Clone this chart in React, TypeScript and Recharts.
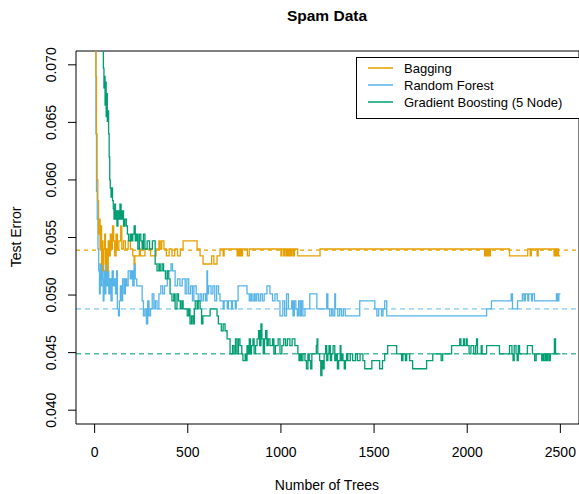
import { LineChart, Line, XAxis, YAxis, ReferenceLine } from 'recharts';

const FONT = '"Liberation Sans", Arial, Helvetica, sans-serif';
const COLORS = { bag: '#E69F00', rf: '#56B4E9', gb: '#009E73' };

const xTicks = [0, 500, 1000, 1500, 2000, 2500];
const yTicks = [0.04, 0.045, 0.05, 0.055, 0.06, 0.065, 0.07];

// [number of trees, test error], drawn as steps
const bagging = [
  [1, 0.095], [4, 0.076], [7, 0.069], [10, 0.064], [13, 0.06], [17, 0.0582], [21, 0.0553], [25, 0.0566],
  [29, 0.054], [33, 0.056], [37, 0.0527], [41, 0.0547], [45, 0.0521], [49, 0.054], [54, 0.0553], [58, 0.0527],
  [63, 0.054], [68, 0.0521], [73, 0.0547], [78, 0.0534], [84, 0.0553], [90, 0.054], [96, 0.056], [102, 0.0547],
  [108, 0.0534], [115, 0.0553], [122, 0.054], [130, 0.0547], [140, 0.056], [146, 0.054], [155, 0.0547], [165, 0.054],
  [180, 0.0547], [192, 0.054], [205, 0.0534], [212, 0.0527], [216, 0.0534], [240, 0.054], [246, 0.0534], [270, 0.054],
  [300, 0.0534], [330, 0.054], [345, 0.0547], [352, 0.054], [360, 0.0547], [372, 0.054], [385, 0.0534], [400, 0.054],
  [415, 0.0534], [430, 0.054], [445, 0.0534], [460, 0.054], [475, 0.0547], [550, 0.054], [566, 0.0534], [582, 0.0527],
  [628, 0.0534], [640, 0.0527], [657, 0.0534], [673, 0.054], [690, 0.0534], [695, 0.054], [765, 0.0534], [770, 0.054],
  [776, 0.0534], [782, 0.054], [788, 0.0534], [794, 0.054], [820, 0.0534], [830, 0.054], [1000, 0.0534], [1005, 0.054],
  [1015, 0.0534], [1022, 0.054], [1030, 0.0534], [1036, 0.054], [1042, 0.0534], [1048, 0.054], [1055, 0.0534],
  [1060, 0.054], [1068, 0.0534], [1072, 0.054], [1090, 0.0534], [1210, 0.054], [2093, 0.0534], [2100, 0.054],
  [2106, 0.0534], [2112, 0.054], [2118, 0.0534], [2124, 0.054], [2227, 0.0534], [2325, 0.054], [2338, 0.0534],
  [2344, 0.054], [2375, 0.0534], [2381, 0.054], [2466, 0.0534], [2472, 0.054], [2478, 0.0534], [2484, 0.054],
  [2490, 0.0534], [2500, 0.0534],
];

const randomForest = [
  [1, 0.09], [4, 0.072], [7, 0.064], [10, 0.059], [14, 0.0566], [18, 0.054], [22, 0.0521], [26, 0.0501],
  [30, 0.0527], [34, 0.0508], [38, 0.0534], [42, 0.0514], [46, 0.0495], [50, 0.0521], [55, 0.0501], [60, 0.0527],
  [65, 0.0508], [70, 0.0521], [76, 0.0501], [82, 0.0514], [88, 0.0495], [94, 0.0521], [100, 0.0508], [106, 0.0514],
  [112, 0.0501], [118, 0.0521], [122, 0.0488], [128, 0.0482], [133, 0.0495], [138, 0.0508], [145, 0.0495],
  [150, 0.0514], [158, 0.0501], [165, 0.0514], [172, 0.0508], [180, 0.0521], [191, 0.0514], [198, 0.0521],
  [205, 0.0508], [212, 0.0527], [218, 0.0514], [226, 0.0508], [255, 0.0495], [262, 0.0482], [270, 0.0488],
  [278, 0.0475], [285, 0.0495], [292, 0.0482], [300, 0.0488], [309, 0.0501], [318, 0.0488], [326, 0.0495],
  [335, 0.0488], [345, 0.0501], [355, 0.0508], [365, 0.0501], [375, 0.0508], [390, 0.0521], [410, 0.0527],
  [418, 0.0521], [432, 0.0508], [445, 0.0514], [458, 0.0508], [470, 0.0514], [486, 0.0501], [495, 0.0514],
  [505, 0.0501], [515, 0.0508], [525, 0.0495], [533, 0.0508], [545, 0.0501], [556, 0.0495], [566, 0.0501],
  [575, 0.0495], [585, 0.0501], [596, 0.0495], [603, 0.0521], [606, 0.0501], [612, 0.0508], [625, 0.0501],
  [635, 0.0508], [645, 0.0495], [655, 0.0508], [665, 0.0501], [673, 0.0495], [690, 0.0488], [695, 0.0495],
  [712, 0.0488], [718, 0.0495], [735, 0.0488], [740, 0.0495], [755, 0.0488], [760, 0.0495], [770, 0.0508],
  [818, 0.0501], [830, 0.0495], [838, 0.0501], [845, 0.0495], [855, 0.0501], [862, 0.0495], [870, 0.0501],
  [880, 0.0495], [890, 0.0501], [900, 0.0495], [910, 0.0501], [925, 0.0508], [941, 0.0501], [955, 0.0495],
  [968, 0.0501], [980, 0.0495], [995, 0.0482], [1010, 0.0495], [1020, 0.0482], [1030, 0.0501], [1040, 0.0488],
  [1058, 0.0495], [1065, 0.0482], [1072, 0.0495], [1080, 0.0488], [1088, 0.0482], [1095, 0.0495], [1103, 0.0482],
  [1110, 0.0495], [1118, 0.0482], [1129, 0.0488], [1155, 0.0501], [1193, 0.0488], [1246, 0.0501], [1252, 0.0488],
  [1262, 0.0482], [1272, 0.0488], [1280, 0.0482], [1289, 0.0501], [1293, 0.0488], [1305, 0.0482], [1315, 0.0488],
  [1325, 0.0482], [1335, 0.0488], [1345, 0.0482], [1359, 0.0482], [1423, 0.0495], [1504, 0.0488], [1515, 0.0482],
  [1525, 0.0488], [1540, 0.0482], [1548, 0.0488], [1557, 0.0495], [1568, 0.0482], [2104, 0.0488], [2130, 0.0495],
  [2236, 0.0501], [2243, 0.0488], [2270, 0.0495], [2296, 0.0501], [2305, 0.0495], [2312, 0.0501], [2325, 0.0495],
  [2330, 0.0501], [2345, 0.0495], [2350, 0.0501], [2361, 0.0495], [2479, 0.0501], [2485, 0.0495], [2492, 0.0501],
  [2500, 0.0501],
];

const gradientBoosting = [
  [1, 0.1], [20, 0.085], [40, 0.074], [47, 0.0697], [50, 0.068], [53, 0.069], [56, 0.0665], [59, 0.0685],
  [62, 0.0655], [65, 0.0675], [68, 0.0651], [72, 0.066], [75, 0.064], [78, 0.062], [81, 0.06], [84, 0.0593],
  [88, 0.0585], [92, 0.0593], [96, 0.0582], [100, 0.0575], [104, 0.0566], [108, 0.0579], [112, 0.0566],
  [116, 0.0573], [120, 0.056], [125, 0.0573], [130, 0.0566], [136, 0.0579], [142, 0.0566], [148, 0.0573],
  [155, 0.056], [162, 0.0566], [170, 0.056], [176, 0.0553], [182, 0.0547], [191, 0.0553], [198, 0.0547],
  [205, 0.0553], [212, 0.056], [218, 0.0547], [225, 0.0553], [232, 0.054], [240, 0.0553], [248, 0.0547],
  [255, 0.054], [262, 0.0553], [270, 0.054], [282, 0.0547], [295, 0.054], [310, 0.0547], [325, 0.0527],
  [335, 0.0521], [345, 0.0527], [352, 0.0521], [362, 0.0527], [370, 0.0521], [380, 0.0514], [390, 0.0521],
  [398, 0.0514], [405, 0.0501], [415, 0.0495], [425, 0.0501], [432, 0.0488], [442, 0.0501], [450, 0.0495],
  [460, 0.0488], [468, 0.0495], [475, 0.0488], [497, 0.0482], [505, 0.0488], [512, 0.0475], [520, 0.0482],
  [528, 0.0475], [535, 0.0488], [540, 0.0495], [550, 0.0488], [556, 0.0495], [566, 0.0488], [574, 0.0475],
  [581, 0.0482], [620, 0.0488], [657, 0.0482], [664, 0.0475], [680, 0.0469], [690, 0.0475], [700, 0.0469],
  [711, 0.0462], [727, 0.0449], [740, 0.0456], [748, 0.0449], [756, 0.0462], [764, 0.0449], [772, 0.0462],
  [780, 0.0456], [790, 0.0449], [796, 0.0443], [808, 0.0449], [812, 0.0443], [818, 0.0456], [825, 0.0449],
  [830, 0.0462], [836, 0.0449], [842, 0.0456], [850, 0.0462], [856, 0.0449], [864, 0.0456], [872, 0.0462],
  [880, 0.0469], [886, 0.0456], [893, 0.0475], [898, 0.0462], [905, 0.0449], [912, 0.0462], [918, 0.0469],
  [925, 0.0456], [932, 0.0462], [941, 0.0456], [955, 0.0462], [962, 0.0449], [970, 0.0456], [985, 0.0462],
  [995, 0.0449], [1005, 0.0456], [1015, 0.0462], [1025, 0.0456], [1035, 0.0462], [1048, 0.0456], [1060, 0.0462],
  [1075, 0.0456], [1091, 0.0449], [1097, 0.0443], [1103, 0.0449], [1110, 0.0443], [1118, 0.0449], [1129, 0.0443],
  [1137, 0.0436], [1145, 0.0449], [1152, 0.0443], [1160, 0.0436], [1166, 0.0449], [1190, 0.0456], [1194, 0.0462],
  [1198, 0.0449], [1208, 0.0443], [1214, 0.043], [1220, 0.0443], [1226, 0.0436], [1232, 0.0449], [1240, 0.0456],
  [1246, 0.0443], [1252, 0.0449], [1258, 0.0456], [1265, 0.0443], [1272, 0.0449], [1280, 0.0456], [1289, 0.0443],
  [1296, 0.0449], [1303, 0.0436], [1310, 0.0443], [1318, 0.0456], [1322, 0.0443], [1327, 0.0449], [1333, 0.0443],
  [1340, 0.0436], [1346, 0.0443], [1352, 0.0449], [1359, 0.0443], [1372, 0.0449], [1385, 0.0443], [1400, 0.0449],
  [1410, 0.0443], [1425, 0.0449], [1440, 0.0443], [1450, 0.0436], [1488, 0.0443], [1530, 0.0436], [1545, 0.0443],
  [1557, 0.0449], [1573, 0.0456], [1621, 0.0449], [1648, 0.0443], [1655, 0.0449], [1668, 0.0443], [1675, 0.0449],
  [1691, 0.0443], [1707, 0.0436], [1782, 0.0443], [1815, 0.0449], [1860, 0.0443], [1868, 0.0449], [1916, 0.0456],
  [1960, 0.0462], [1966, 0.0456], [1980, 0.0462], [1985, 0.0456], [1995, 0.0462], [2000, 0.0456], [2010, 0.0449],
  [2020, 0.0456], [2035, 0.0449], [2045, 0.0456], [2050, 0.0462], [2055, 0.0449], [2075, 0.0456], [2080, 0.0449],
  [2104, 0.0456], [2173, 0.0449], [2227, 0.0456], [2240, 0.0449], [2246, 0.0443], [2252, 0.0456], [2262, 0.0449],
  [2268, 0.0443], [2274, 0.0456], [2281, 0.0449], [2323, 0.0456], [2350, 0.0449], [2362, 0.0443], [2370, 0.0449],
  [2400, 0.0443], [2406, 0.0449], [2412, 0.0443], [2420, 0.0449], [2426, 0.0443], [2432, 0.0449], [2440, 0.0443],
  [2446, 0.0449], [2468, 0.0462], [2474, 0.0449], [2500, 0.0449],
];

// long-run averages (dashed lines)
const finalErrors = { bag: 0.0539, rf: 0.0488, gb: 0.0449 };

const legendItems = [
  { label: 'Bagging', color: COLORS.bag },
  { label: 'Random Forest', color: COLORS.rf },
  { label: 'Gradient Boosting (5 Node)', color: COLORS.gb },
];

const toRows = (arr: number[][]) => arr.map(([n, err]) => ({ n, err }));

function XTick({ x, payload }: any) {
  return (
    <text x={x} y={452} textAnchor="middle" dominantBaseline="central" fontSize={14} fontFamily={FONT} fill="#000">
      {payload.value}
    </text>
  );
}

function YTick({ y, payload }: any) {
  return (
    <text x={51} y={y} transform={`rotate(-90, 51, ${y})`} textAnchor="middle" dominantBaseline="central"
      fontSize={14} fontFamily={FONT} fill="#000">
      {payload.value.toFixed(3)}
    </text>
  );
}

export default function App() {
  return (
    <div style={{ position: 'absolute', left: 0, top: 0, width: 579, height: 494, background: '#fff', fontFamily: FONT }}>
      <LineChart width={579} height={494} margin={{ top: 51, right: 0, bottom: 0, left: 0 }}>
        <XAxis type="number" dataKey="n" domain={[-100, 2600]} allowDataOverflow ticks={xTicks}
          tick={<XTick />} tickSize={9} stroke="#000" height={70} />
        <YAxis type="number" domain={[0.0388, 0.0712]} allowDataOverflow ticks={yTicks}
          tick={<YTick />} tickSize={8} stroke="#000" width={76} />
        <ReferenceLine y={0.0712} stroke="#000" />
        <ReferenceLine x={2600} stroke="#000" />
        <ReferenceLine y={finalErrors.bag} stroke={COLORS.bag} strokeDasharray="4 4" strokeWidth={1.2} />
        <ReferenceLine y={finalErrors.rf} stroke={COLORS.rf} strokeOpacity={0.55} strokeDasharray="5 4" strokeWidth={1.6} />
        <ReferenceLine y={finalErrors.gb} stroke={COLORS.gb} strokeOpacity={0.7} strokeDasharray="5 4" strokeWidth={1.4} />
        <Line data={toRows(randomForest)} dataKey="err" type="stepAfter" stroke={COLORS.rf} strokeWidth={1.3}
          dot={false} isAnimationActive={false} />
        <Line data={toRows(bagging)} dataKey="err" type="stepAfter" stroke={COLORS.bag} strokeWidth={1.3}
          dot={false} isAnimationActive={false} />
        <Line data={toRows(gradientBoosting)} dataKey="err" type="stepAfter" stroke={COLORS.gb} strokeWidth={1.3}
          dot={false} isAnimationActive={false} />
      </LineChart>
      <svg width={579} height={494} style={{ position: 'absolute', left: 0, top: 0, pointerEvents: 'none' }}>
        <text x={327} y={15} textAnchor="middle" dominantBaseline="central" fontSize={15.5} fontWeight="bold" fontFamily={FONT}>
          Spam Data
        </text>
        <text x={327} y={485} textAnchor="middle" dominantBaseline="central" fontSize={14} fontFamily={FONT}>
          Number of Trees
        </text>
        <text x={16} y={237} transform="rotate(-90, 16, 237)" textAnchor="middle" dominantBaseline="central" fontSize={14} fontFamily={FONT}>
          Test Error
        </text>
        <rect x={356.5} y={57.5} width={230} height={61} fill="#fff" stroke="#000" />
        {legendItems.map((item, i) => (
          <g key={item.label}>
            <line x1={368} x2={393} y1={68 + i * 17} y2={68 + i * 17} stroke={item.color} strokeWidth={1.5} />
            <text x={404} y={68 + i * 17} dominantBaseline="central" fontSize={13} fontFamily={FONT}>{item.label}</text>
          </g>
        ))}
      </svg>
    </div>
  );
}
